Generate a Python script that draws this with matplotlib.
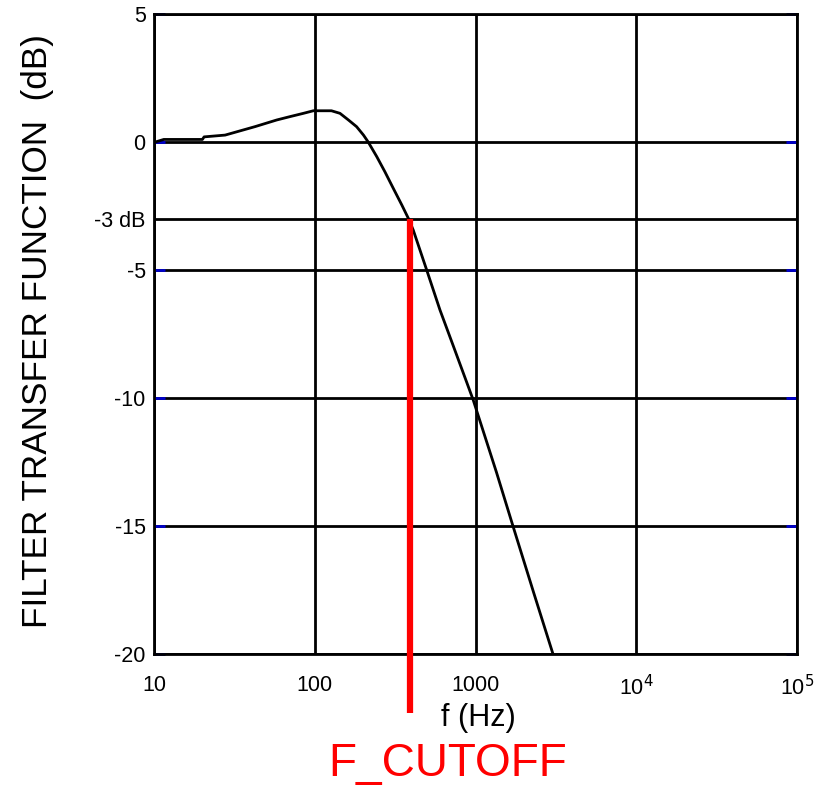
import matplotlib
matplotlib.use("Agg")
import matplotlib.pyplot as plt
from matplotlib.ticker import FixedLocator, NullLocator

plt.rcParams['font.family'] = ['Liberation Sans', 'DejaVu Sans']

# Data
freq_hz = [10.2, 11.5, 20, 20.5, 27.7, 42.5, 58, 70, 85, 98, 127, 143.5, 162, 182, 201, 215,
           243, 273, 308, 348, 382, 410, 497, 601, 728, 881, 968, 1350, 1710, 2300, 3034]
gain_db = [0.0, 0.1, 0.1, 0.2, 0.27, 0.6, 0.86, 0.99, 1.12, 1.22, 1.22, 1.12, 0.86, 0.6, 0.27, 0.0,
           -0.57, -1.16, -1.81, -2.46, -2.98, -3.44, -5.0, -6.56, -7.97, -9.38, -10.08, -12.9,
           -15.0, -17.6, -20.0]

x_ticks = [10, 100, 1000, 1e4, 1e5]
x_tick_labels = ['10', '100', '1000', r'10$^{4}$', r'10$^{5}$']
y_ticks = [5, 0, -5, -10, -15, -20]
y_tick_labels = ['5', '0', '-5', '-10', '-15', '-20']
cutoff_db = -3
cutoff_label = '-3 dB'
f_cutoff = 390

W, H = 835, 791
fig = plt.figure(figsize=(W / 100, H / 100), dpi=100)
ax = fig.add_axes([154 / W, (H - 654) / H, (797 - 154) / W, (654 - 14) / H])

ax.set_xscale('log')
ax.set_xlim(10, 1e5)
ax.set_ylim(-20, 5)

# grid
for xv in x_ticks:
    ax.axvline(xv, color='black', lw=2, zorder=1)
for yv in y_ticks + [cutoff_db]:
    ax.axhline(yv, color='black', lw=2, zorder=1)

ax.plot(freq_hz, gain_db, color='black', lw=2, zorder=3)

# red cutoff line going below axis
ax.plot([f_cutoff, f_cutoff], [cutoff_db, -22.3], color='red', lw=4.5, clip_on=False,
        solid_capstyle='butt', zorder=4)

for s in ax.spines.values():
    s.set_linewidth(2)
    s.set_color('black')

ax.xaxis.set_major_locator(FixedLocator(x_ticks))
ax.xaxis.set_minor_locator(NullLocator())
ax.set_xticklabels(x_tick_labels)
ax.set_yticks(y_ticks + [cutoff_db])
ax.set_yticklabels(y_tick_labels + [cutoff_label])
ax.tick_params(axis='y', which='major', direction='in', length=8, width=2, color='#0000cc',
               labelsize=15.5, pad=6, right=True)
ax.tick_params(axis='x', which='major', direction='in', length=0, labelsize=15.5, pad=15)
# hide blue tick for -3 dB line
ax.yaxis.get_major_ticks()[-1].tick1line.set_visible(False)
ax.yaxis.get_major_ticks()[-1].tick2line.set_visible(False)

fig.text(38 / W, (H - 331) / H, 'FILTER TRANSFER FUNCTION  (dB)', rotation=90,
         ha='center', va='center', fontsize=25.3)
fig.text(478 / W, (H - 718) / H, 'f (Hz)', ha='center', va='center', fontsize=22)
fig.text(448 / W, (H - 764) / H, 'F_CUTOFF', ha='center', va='center', fontsize=33, color='red')

fig.savefig('out.png', dpi=100)
